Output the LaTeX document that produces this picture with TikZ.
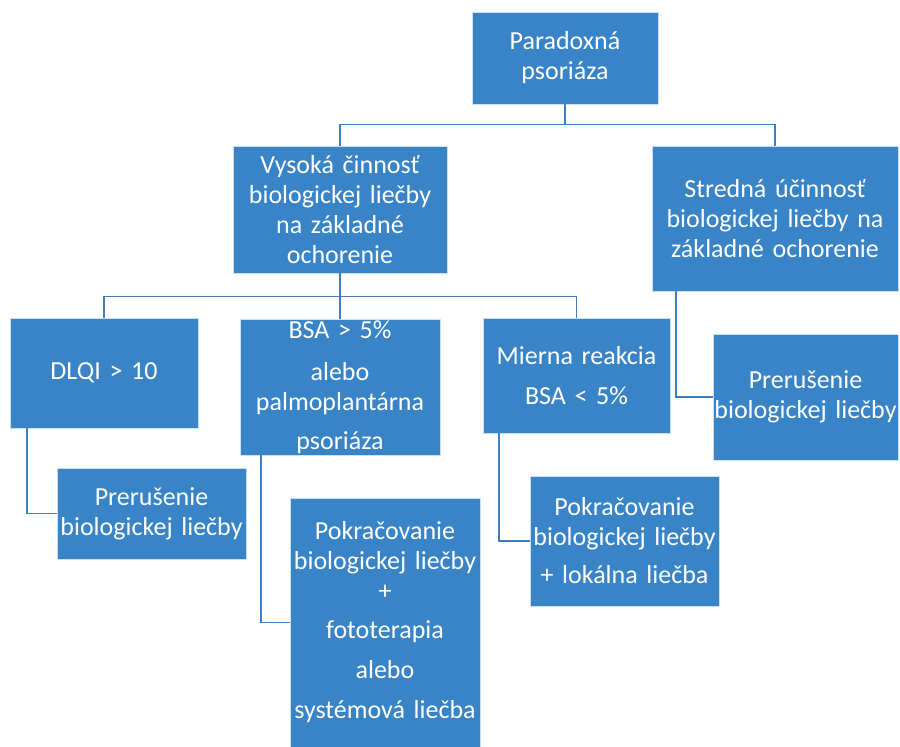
\documentclass[tikz,border=0pt]{standalone}
\usepackage{fontspec}
\setmainfont{Carlito}[WordSpace=0.8]
\definecolor{boxblue}{RGB}{56,132,198}
\definecolor{lineblue}{RGB}{62,126,190}
\begin{document}
\begin{tikzpicture}[x=1pt,y=-1pt,
    box/.style={fill=boxblue,draw=white!75!boxblue,line width=0.6pt,text=white,
        inner sep=0pt,align=center,font=\fontsize{26}{30}\selectfont},
    link/.style={draw=lineblue,line width=1.6pt}]
    \useasboundingbox (0,0) rectangle (900,747);
    \node[box,minimum width=186,minimum height=92,text width=184] (root) at (565,58) {Paradoxná\\psoriáza};
    \node[box,minimum width=214,minimum height=127,text width=212] (high) at (340,209.5)
        {Vysoká činnosť\\biologickej liečby\\na základné\\ochorenie};
    \node[box,minimum width=246,minimum height=145,text width=244] (mid) at (775,218.5)
        {Stredná účinnosť\\biologickej liečby na\\základné ochorenie};
    \node[box,minimum width=188,minimum height=110,text width=186] (dlqi) at (104,373) {DLQI > 10};
    \node[box,minimum width=200,minimum height=136,text width=198] (bsa) at (340,387)
        {BSA > 5\%\\[12pt]alebo\\palmoplantárna\\[9pt]psoriáza};
    \node[box,minimum width=187,minimum height=115,text width=185] (mild) at (576.5,375.5)
        {Mierna reakcia\\[10pt]BSA < 5\%};
    \node[box,minimum width=189,minimum height=91,text width=187] (stop1) at (151.5,513.5)
        {Prerušenie\\biologickej liečby};
    \node[box,minimum width=190,minimum height=249,text width=188] (cont1) at (385,622.5)
        {Pokračovanie\\biologickej liečby\\+\\[9pt]fototerapia\\[10pt]alebo\\[10pt]systémová liečba};
    \node[box,minimum width=189,minimum height=130,text width=187] (cont2) at (624.5,541)
        {Pokračovanie\\biologickej liečby\\[8pt]+ lokálna liečba};
    \node[box,minimum width=185,minimum height=126,text width=183] (stop2) at (805.5,397)
        {Prerušenie\\biologickej liečby};
    \draw[link] (root.south) -- ++(0,20) coordinate (rootbar) -| (high.north);
    \draw[link] (rootbar) -| (mid.north);
    \draw[link] (high.south) -- ++(0,23) coordinate (highbar) -| (dlqi.north);
    \draw[link] (highbar) -| (mild.north);
    \draw[link] (highbar) -- (bsa.north);
    \foreach \from/\to/\dx in {dlqi/stop1/17,bsa/cont1/21,mild/cont2/16,mid/stop2/24}
        \draw[link] ([xshift=\dx]\from.south west) |- (\to.west);
\end{tikzpicture}
\end{document}
